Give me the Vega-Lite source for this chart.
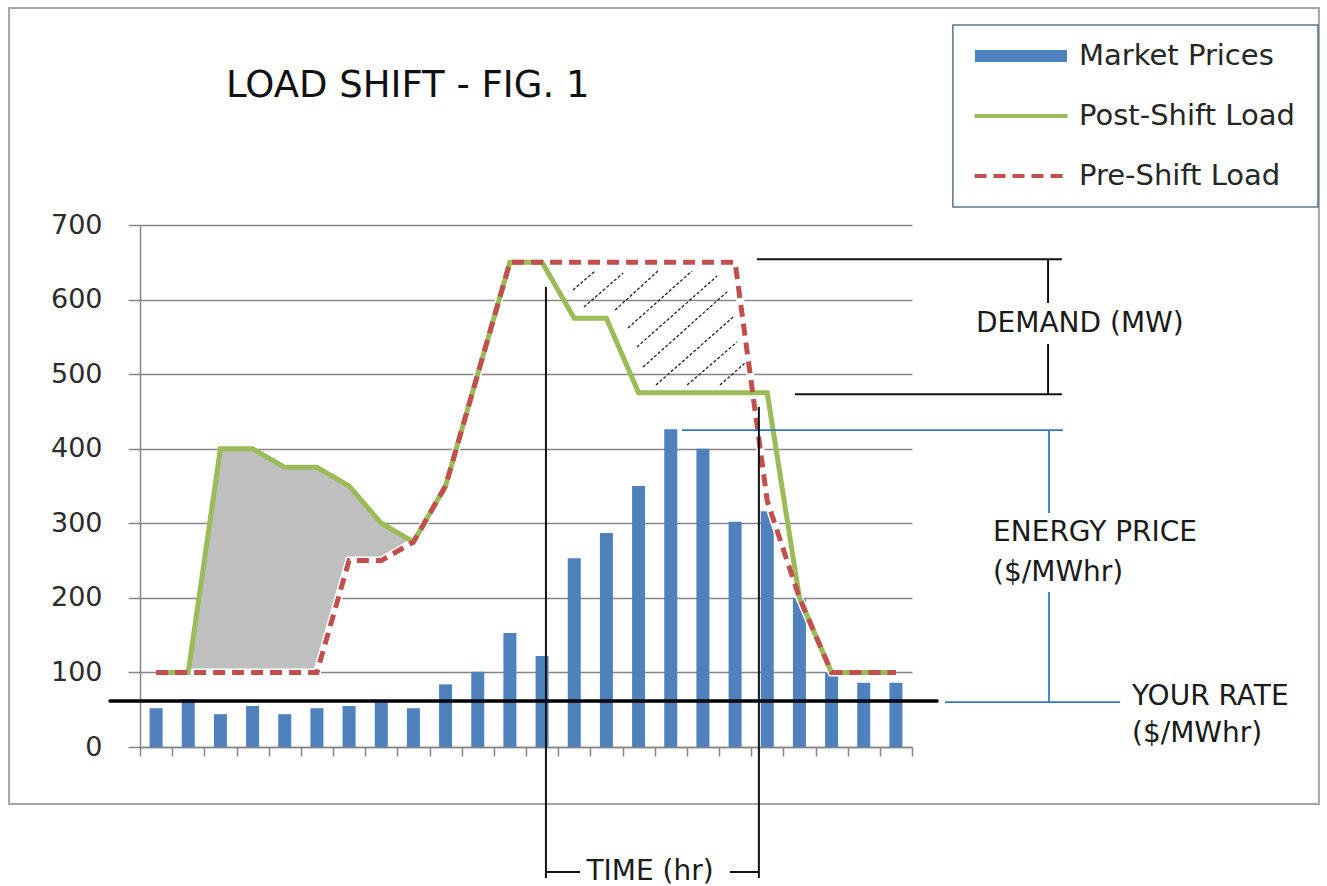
{
  "$schema": "https://vega.github.io/schema/vega-lite/v6.json",
  "width": 772,
  "height": 522,
  "autosize": {"type": "none"},
  "padding": {"left": 140, "top": 225, "right": 415, "bottom": 139},
  "background": "white",
  "config": {
    "view": {"stroke": null},
    "text": {"font": "DejaVu Sans"},
    "axisX": {"labels": false, "grid": false, "tickSize": 9, "tickColor": "#868686", "tickWidth": 1.5, "domainColor": "#868686", "domainWidth": 1.5},
    "axisY": {"grid": true, "gridColor": "#868686", "gridWidth": 1.5, "tickSize": 12, "tickColor": "#868686", "tickWidth": 1.5, "domainColor": "#868686", "domainWidth": 1.5, "labelFont": "DejaVu Sans", "labelFontSize": 27, "labelColor": "#2b2b2b", "labelPadding": 26}
  },
  "resolve": {"scale": {"color": "independent"}, "legend": {"color": "independent"}},
  "datasets": {
    "hours": [
      {"hour": 1, "price": 52, "pre": 100, "post": 100},
      {"hour": 2, "price": 64, "pre": 100, "post": 100},
      {"hour": 3, "price": 44, "pre": 100, "post": 400},
      {"hour": 4, "price": 55, "pre": 100, "post": 400},
      {"hour": 5, "price": 44, "pre": 100, "post": 375},
      {"hour": 6, "price": 52, "pre": 100, "post": 375},
      {"hour": 7, "price": 55, "pre": 250, "post": 350},
      {"hour": 8, "price": 62, "pre": 250, "post": 300},
      {"hour": 9, "price": 52, "pre": 275, "post": 275},
      {"hour": 10, "price": 84, "pre": 350, "post": 350},
      {"hour": 11, "price": 101, "pre": 500, "post": 500},
      {"hour": 12, "price": 153, "pre": 650, "post": 650},
      {"hour": 13, "price": 122, "pre": 650, "post": 650},
      {"hour": 14, "price": 253, "pre": 650, "post": 575},
      {"hour": 15, "price": 287, "pre": 650, "post": 575},
      {"hour": 16, "price": 350, "pre": 650, "post": 475},
      {"hour": 17, "price": 426, "pre": 650, "post": 475},
      {"hour": 18, "price": 400, "pre": 650, "post": 475},
      {"hour": 19, "price": 302, "pre": 650, "post": 475},
      {"hour": 20, "price": 316, "pre": 330, "post": 475},
      {"hour": 21, "price": 200, "pre": 200, "post": 200},
      {"hour": 22, "price": 100, "pre": 100, "post": 100},
      {"hour": 23, "price": 86, "pre": 100, "post": 100},
      {"hour": 24, "price": 86, "pre": 100, "post": 100}
    ],
    "frame": [{"x": -3.57, "x2": 37.15, "y": 991, "y2": -76.4}],
    "legendBox": [{"x": 25.77, "x2": 37.12, "y": 968.2, "y2": 724.1}],
    "hatch": [
      {"x": 13.96, "y": 612.8, "x2": 14.65, "y2": 638.3},
      {"x": 14.30, "y": 590.0, "x2": 15.52, "y2": 635.6},
      {"x": 15.27, "y": 586.0, "x2": 16.60, "y2": 638.3},
      {"x": 15.67, "y": 561.9, "x2": 17.66, "y2": 638.3},
      {"x": 15.95, "y": 536.4, "x2": 18.44, "y2": 631.6},
      {"x": 16.14, "y": 509.6, "x2": 18.78, "y2": 611.5},
      {"x": 16.54, "y": 485.4, "x2": 18.94, "y2": 576.6},
      {"x": 17.51, "y": 485.4, "x2": 19.06, "y2": 543.1},
      {"x": 18.53, "y": 485.4, "x2": 19.31, "y2": 514.9}
    ],
    "rate": [{"x": -0.43, "x2": 25.28, "y": 61.7, "y2": 61.7}],
    "priceBracket": [
      {"x": 17.35, "x2": 29.19, "y": 425, "y2": 425},
      {"x": 28.76, "x2": 28.76, "y": 425, "y2": 313.8},
      {"x": 28.76, "x2": 28.76, "y": 207.9, "y2": 60.3},
      {"x": 25.53, "x2": 30.97, "y": 60.3, "y2": 60.3}
    ],
    "demandBracket": [
      {"x": 19.68, "x2": 29.16, "y": 654, "y2": 654},
      {"x": 20.86, "x2": 29.16, "y": 473, "y2": 473},
      {"x": 28.73, "x2": 28.73, "y": 654, "y2": 595.4},
      {"x": 28.73, "x2": 28.73, "y": 540.4, "y2": 473}
    ],
    "timeBracket": [
      {"x": 13.12, "x2": 13.12, "y": 617, "y2": -175.7},
      {"x": 19.74, "x2": 19.74, "y": 456, "y2": -175.7},
      {"x": 13.12, "x2": 14.18, "y": -167.6, "y2": -167.6},
      {"x": 18.84, "x2": 19.74, "y": -167.6, "y2": -167.6}
    ],
    "notes": [
      {"x": 26.49, "y": 567.2, "text": "DEMAND (MW)"},
      {"x": 27.02, "y": 287, "text": "ENERGY PRICE"},
      {"x": 27.02, "y": 232.7, "text": "($/MWhr)"},
      {"x": 31.34, "y": 66.4, "text": "YOUR RATE"},
      {"x": 31.34, "y": 17.4, "text": "($/MWhr)"}
    ],
    "timeLabel": [{"x": 16.355, "y": -167.6, "text": "TIME (hr)"}],
    "heading": [{"x": 3.17, "y": 886.4, "text": "LOAD SHIFT - FIG. 1"}]
  },
  "layer": [
    {
      "data": {"name": "frame"},
      "mark": {"type": "rect", "fill": "transparent", "stroke": "#A5A5A5", "strokeWidth": 2},
      "encoding": {
        "x": {"field": "x", "type": "quantitative", "scale": {"domain": [0.5, 24.5], "nice": false, "zero": false, "padding": 0}, "axis": {"title": null}},
        "x2": {"field": "x2"},
        "y": {"field": "y", "type": "quantitative", "scale": {"domain": [0, 700], "nice": false, "zero": false, "padding": 0}, "axis": {"title": null}},
        "y2": {"field": "y2"}
      }
    },
    {
      "data": {"name": "legendBox"},
      "mark": {"type": "rect", "fill": "white", "stroke": "#5B7590", "strokeWidth": 1.5},
      "encoding": {
        "x": {"field": "x", "type": "quantitative", "scale": {"domain": [0.5, 24.5], "nice": false, "zero": false, "padding": 0}, "axis": {"title": null}},
        "x2": {"field": "x2"},
        "y": {"field": "y", "type": "quantitative", "scale": {"domain": [0, 700], "nice": false, "zero": false, "padding": 0}, "axis": {"title": null}},
        "y2": {"field": "y2"}
      }
    },
    {
      "data": {"name": "hours"},
      "transform": [{"filter": "datum.hour >= 2 && datum.hour <= 9"}],
      "mark": {"type": "area", "color": "#BFBFBF", "stroke": "white", "strokeWidth": 3},
      "encoding": {
        "x": {"field": "hour", "type": "quantitative", "scale": {"domain": [0.5, 24.5], "nice": false, "zero": false, "padding": 0}, "axis": {"title": null}},
        "y": {"field": "post", "type": "quantitative", "scale": {"domain": [0, 700], "nice": false, "zero": false, "padding": 0}, "axis": {"title": null}},
        "y2": {"field": "pre"}
      }
    },
    {
      "data": {"name": "hours"},
      "mark": {"type": "bar", "size": 13},
      "encoding": {
        "x": {
          "field": "hour", "type": "quantitative",
          "scale": {"domain": [0.5, 24.5], "nice": false, "zero": false, "padding": 0},
          "axis": {"title": null, "tickCount": 30, "values": [0.5, 1.5, 2.5, 3.5, 4.5, 5.5, 6.5, 7.5, 8.5, 9.5, 10.5, 11.5, 12.5, 13.5, 14.5, 15.5, 16.5, 17.5, 18.5, 19.5, 20.5, 21.5, 22.5, 23.5, 24.5]}
        },
        "y": {
          "field": "price", "type": "quantitative",
          "scale": {"domain": [0, 700], "nice": false, "zero": false, "padding": 0},
          "axis": {"title": null, "tickCount": 10, "values": [0, 100, 200, 300, 400, 500, 600, 700]}
        },
        "color": {
          "datum": "Market Prices", "type": "nominal",
          "scale": {"domain": ["Market Prices"], "range": ["#4F81BD"]},
          "legend": {
            "orient": "none", "legendX": 835, "legendY": -215, "title": null, "padding": 0,
            "symbolType": "M-1,-0.13H1V0.13H-1Z", "symbolSize": 8464, "symbolStrokeWidth": 0,
            "symbolOffset": 0, "labelOffset": 12, "labelLimit": 400,
            "labelFont": "DejaVu Sans", "labelFontSize": 29, "labelColor": "#262626"
          }
        }
      }
    },
    {
      "data": {"name": "hatch"},
      "mark": {"type": "rule", "color": "#222222", "strokeWidth": 1.3, "strokeDash": [3, 2]},
      "encoding": {
        "x": {"field": "x", "type": "quantitative", "scale": {"domain": [0.5, 24.5], "nice": false, "zero": false, "padding": 0}, "axis": {"title": null}},
        "x2": {"field": "x2"},
        "y": {"field": "y", "type": "quantitative", "scale": {"domain": [0, 700], "nice": false, "zero": false, "padding": 0}, "axis": {"title": null}},
        "y2": {"field": "y2"}
      }
    },
    {
      "data": {"name": "hours"},
      "mark": {"type": "line", "color": "white", "strokeWidth": 8},
      "encoding": {
        "x": {"field": "hour", "type": "quantitative", "scale": {"domain": [0.5, 24.5], "nice": false, "zero": false, "padding": 0}, "axis": {"title": null}},
        "y": {"field": "pre", "type": "quantitative", "scale": {"domain": [0, 700], "nice": false, "zero": false, "padding": 0}, "axis": {"title": null}}
      }
    },
    {
      "data": {"name": "hours"},
      "mark": {"type": "line", "strokeWidth": 5},
      "encoding": {
        "x": {"field": "hour", "type": "quantitative", "scale": {"domain": [0.5, 24.5], "nice": false, "zero": false, "padding": 0}, "axis": {"title": null}},
        "y": {"field": "post", "type": "quantitative", "scale": {"domain": [0, 700], "nice": false, "zero": false, "padding": 0}, "axis": {"title": null}},
        "color": {
          "datum": "Post-Shift Load", "type": "nominal",
          "scale": {"domain": ["Post-Shift Load"], "range": ["#9BBB59"]},
          "legend": {
            "orient": "none", "legendX": 832.5, "legendY": -157.5, "title": null, "padding": 0,
            "symbolType": "stroke", "symbolSize": 8649, "symbolStrokeWidth": 4,
            "symbolOffset": 0, "labelOffset": 9.5, "labelLimit": 400,
            "labelFont": "DejaVu Sans", "labelFontSize": 29, "labelColor": "#262626"
          }
        }
      }
    },
    {
      "data": {"name": "hours"},
      "mark": {"type": "line", "strokeWidth": 5, "strokeDash": [12, 7]},
      "encoding": {
        "x": {"field": "hour", "type": "quantitative", "scale": {"domain": [0.5, 24.5], "nice": false, "zero": false, "padding": 0}, "axis": {"title": null}},
        "y": {"field": "pre", "type": "quantitative", "scale": {"domain": [0, 700], "nice": false, "zero": false, "padding": 0}, "axis": {"title": null}},
        "color": {
          "datum": "Pre-Shift Load", "type": "nominal",
          "scale": {"domain": ["Pre-Shift Load"], "range": ["#C0504D"]},
          "legend": {
            "orient": "none", "legendX": 832.5, "legendY": -97.5, "title": null, "padding": 0,
            "symbolType": "stroke", "symbolSize": 8649, "symbolStrokeWidth": 4, "symbolDash": [12, 7],
            "symbolOffset": 0, "labelOffset": 9.5, "labelLimit": 400,
            "labelFont": "DejaVu Sans", "labelFontSize": 29, "labelColor": "#262626"
          }
        }
      }
    },
    {
      "data": {"name": "rate"},
      "mark": {"type": "rule", "color": "black", "strokeWidth": 3.5, "strokeCap": "round"},
      "encoding": {
        "x": {"field": "x", "type": "quantitative", "scale": {"domain": [0.5, 24.5], "nice": false, "zero": false, "padding": 0}, "axis": {"title": null}},
        "x2": {"field": "x2"},
        "y": {"field": "y", "type": "quantitative", "scale": {"domain": [0, 700], "nice": false, "zero": false, "padding": 0}, "axis": {"title": null}},
        "y2": {"field": "y2"}
      }
    },
    {
      "data": {"name": "priceBracket"},
      "mark": {"type": "rule", "color": "#2E7BC4", "strokeWidth": 1.8},
      "encoding": {
        "x": {"field": "x", "type": "quantitative", "scale": {"domain": [0.5, 24.5], "nice": false, "zero": false, "padding": 0}, "axis": {"title": null}},
        "x2": {"field": "x2"},
        "y": {"field": "y", "type": "quantitative", "scale": {"domain": [0, 700], "nice": false, "zero": false, "padding": 0}, "axis": {"title": null}},
        "y2": {"field": "y2"}
      }
    },
    {
      "data": {"name": "demandBracket"},
      "mark": {"type": "rule", "color": "#111111", "strokeWidth": 2},
      "encoding": {
        "x": {"field": "x", "type": "quantitative", "scale": {"domain": [0.5, 24.5], "nice": false, "zero": false, "padding": 0}, "axis": {"title": null}},
        "x2": {"field": "x2"},
        "y": {"field": "y", "type": "quantitative", "scale": {"domain": [0, 700], "nice": false, "zero": false, "padding": 0}, "axis": {"title": null}},
        "y2": {"field": "y2"}
      }
    },
    {
      "data": {"name": "timeBracket"},
      "mark": {"type": "rule", "color": "#111111", "strokeWidth": 2},
      "encoding": {
        "x": {"field": "x", "type": "quantitative", "scale": {"domain": [0.5, 24.5], "nice": false, "zero": false, "padding": 0}, "axis": {"title": null}},
        "x2": {"field": "x2"},
        "y": {"field": "y", "type": "quantitative", "scale": {"domain": [0, 700], "nice": false, "zero": false, "padding": 0}, "axis": {"title": null}},
        "y2": {"field": "y2"}
      }
    },
    {
      "data": {"name": "notes"},
      "mark": {"type": "text", "align": "left", "baseline": "middle", "font": "DejaVu Sans", "fontSize": 28, "color": "#1a1a1a"},
      "encoding": {
        "x": {"field": "x", "type": "quantitative", "scale": {"domain": [0.5, 24.5], "nice": false, "zero": false, "padding": 0}, "axis": {"title": null}},
        "y": {"field": "y", "type": "quantitative", "scale": {"domain": [0, 700], "nice": false, "zero": false, "padding": 0}, "axis": {"title": null}},
        "text": {"field": "text", "type": "nominal"}
      }
    },
    {
      "data": {"name": "timeLabel"},
      "mark": {"type": "text", "align": "center", "baseline": "middle", "font": "DejaVu Sans", "fontSize": 28, "color": "#1a1a1a"},
      "encoding": {
        "x": {"field": "x", "type": "quantitative", "scale": {"domain": [0.5, 24.5], "nice": false, "zero": false, "padding": 0}, "axis": {"title": null}},
        "y": {"field": "y", "type": "quantitative", "scale": {"domain": [0, 700], "nice": false, "zero": false, "padding": 0}, "axis": {"title": null}},
        "text": {"field": "text", "type": "nominal"}
      }
    },
    {
      "data": {"name": "heading"},
      "mark": {"type": "text", "align": "left", "baseline": "middle", "font": "DejaVu Sans", "fontSize": 37, "color": "#111111"},
      "encoding": {
        "x": {"field": "x", "type": "quantitative", "scale": {"domain": [0.5, 24.5], "nice": false, "zero": false, "padding": 0}, "axis": {"title": null}},
        "y": {"field": "y", "type": "quantitative", "scale": {"domain": [0, 700], "nice": false, "zero": false, "padding": 0}, "axis": {"title": null}},
        "text": {"field": "text", "type": "nominal"}
      }
    }
  ]
}
